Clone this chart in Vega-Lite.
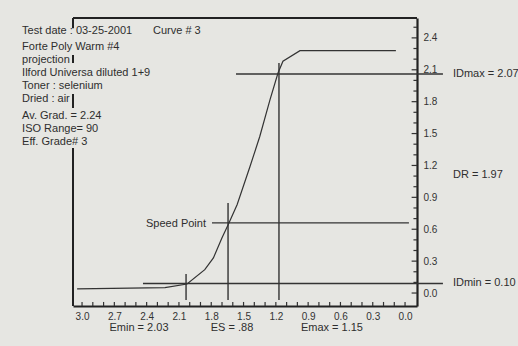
{
  "$schema": "https://vega.github.io/schema/vega-lite/v6.json",
  "width": 344,
  "height": 288,
  "autosize": {"type": "none"},
  "padding": {"left": 73, "top": 18, "right": 101, "bottom": 40},
  "background": "#e6e6e2",
  "config": {
    "view": {"stroke": null},
    "font": "Liberation Sans",
    "text": {"font": "Liberation Sans", "fontSize": 11, "color": "#2e2e2e"}
  },
  "datasets": {
    "curve": [
      {"logE": 3.046, "D": 0.04},
      {"logE": 2.23, "D": 0.05},
      {"logE": 2.025, "D": 0.085},
      {"logE": 1.86, "D": 0.22},
      {"logE": 1.78, "D": 0.33},
      {"logE": 1.70, "D": 0.52},
      {"logE": 1.644, "D": 0.64},
      {"logE": 1.56, "D": 0.83},
      {"logE": 1.44, "D": 1.19},
      {"logE": 1.35, "D": 1.47},
      {"logE": 1.254, "D": 1.82},
      {"logE": 1.18, "D": 2.07},
      {"logE": 1.134, "D": 2.18},
      {"logE": 0.976, "D": 2.28},
      {"logE": 0.085, "D": 2.28}
    ],
    "lines": [
      {"name": "Emin", "x": 2.034, "x2": 2.034, "y": 0.179, "y2": -0.066},
      {"name": "IDmin", "x": 2.434, "x2": -0.352, "y": 0.09, "y2": 0.09},
      {"name": "Speed vertical", "x": 1.644, "x2": 1.644, "y": 0.847, "y2": -0.066},
      {"name": "Speed horizontal", "x": 1.793, "x2": -0.036, "y": 0.66, "y2": 0.66},
      {"name": "Emax", "x": 1.171, "x2": 1.171, "y": 2.164, "y2": -0.066},
      {"name": "IDmax", "x": 1.57, "x2": -0.352, "y": 2.06, "y2": 2.06}
    ],
    "frame": [
      {"name": "top", "x": 3.084, "x2": -0.111, "y": 2.587, "y2": 2.587},
      {"name": "left a", "x": 3.084, "x2": 3.084, "y": 2.587, "y2": 2.49},
      {"name": "left b", "x": 3.084, "x2": 3.084, "y": 2.239, "y2": 2.164},
      {"name": "left c", "x": 3.084, "x2": 3.084, "y": 1.872, "y2": 1.74},
      {"name": "left d", "x": 3.084, "x2": 3.084, "y": 1.364, "y2": -0.122}
    ],
    "xTicks": [
      {"v": 0.0}, {"v": 0.1}, {"v": 0.2}, {"v": 0.3}, {"v": 0.4}, {"v": 0.5}, {"v": 0.6}, {"v": 0.7}, {"v": 0.8}, {"v": 0.9},
      {"v": 1.0}, {"v": 1.1}, {"v": 1.2}, {"v": 1.3}, {"v": 1.4}, {"v": 1.5}, {"v": 1.6}, {"v": 1.7}, {"v": 1.8}, {"v": 1.9},
      {"v": 2.0}, {"v": 2.1}, {"v": 2.2}, {"v": 2.3}, {"v": 2.4}, {"v": 2.5}, {"v": 2.6}, {"v": 2.7}, {"v": 2.8}, {"v": 2.9}, {"v": 3.0}
    ],
    "yMinorTicks": [
      {"v": 0.1}, {"v": 0.2}, {"v": 0.4}, {"v": 0.5}, {"v": 0.7}, {"v": 0.8}, {"v": 1.0}, {"v": 1.1}, {"v": 1.3}, {"v": 1.4},
      {"v": 1.6}, {"v": 1.7}, {"v": 1.9}, {"v": 2.0}, {"v": 2.2}, {"v": 2.3}, {"v": 2.5}
    ],
    "yMajorTicks": [
      {"v": 0.0}, {"v": 0.3}, {"v": 0.6}, {"v": 0.9}, {"v": 1.2}, {"v": 1.5}, {"v": 1.8}, {"v": 2.1}, {"v": 2.4}
    ],
    "leftText": [
      {"x": 3.557, "y": 2.465, "label": "Test date : 03-25-2001"},
      {"x": 2.341, "y": 2.465, "label": "Curve # 3"},
      {"x": 3.557, "y": 2.314, "label": "Forte Poly Warm  #4"},
      {"x": 3.557, "y": 2.192, "label": "projection"},
      {"x": 3.557, "y": 2.07, "label": "Ilford Universa diluted 1+9"},
      {"x": 3.557, "y": 1.947, "label": "Toner : selenium"},
      {"x": 3.557, "y": 1.825, "label": "Dried : air"},
      {"x": 3.557, "y": 1.665, "label": "Av. Grad. = 2.24"},
      {"x": 3.557, "y": 1.543, "label": "ISO Range=  90"},
      {"x": 3.557, "y": 1.42, "label": "Eff. Grade#  3"},
      {"x": -0.445, "y": 2.06, "label": "IDmax = 2.07"},
      {"x": -0.445, "y": 1.11, "label": "DR =  1.97"},
      {"x": -0.445, "y": 0.094, "label": "IDmin = 0.10"}
    ],
    "centerText": [
      {"x": 2.471, "y": -0.329, "label": "Emin = 2.03"},
      {"x": 1.607, "y": -0.329, "label": "ES =  .88"},
      {"x": 0.679, "y": -0.329, "label": "Emax =  1.15"}
    ],
    "rightText": [
      {"x": 1.849, "y": 0.65, "label": "Speed Point"}
    ]
  },
  "layer": [
    {
      "data": {"name": "frame"},
      "mark": {"type": "rule", "color": "#222222", "strokeWidth": 2, "clip": false},
      "encoding": {
        "x": {"field": "x", "type": "quantitative", "scale": {"domain": [-0.111, 3.084], "reverse": true, "nice": false, "zero": false},
          "axis": {
            "orient": "bottom", "title": null, "values": [0, 0.3, 0.6, 0.9, 1.2, 1.5, 1.8, 2.1, 2.4, 2.7, 3.0],
            "tickCount": 50, "format": ".1f", "ticks": false,
            "domainColor": "#222222", "domainWidth": 2.2,
            "labelPadding": 5, "labelFontSize": 10, "labelColor": "#333333", "labelFont": "Liberation Sans", "grid": false, "labelOverlap": false, "labelFlush": false
          }},
        "x2": {"field": "x2"},
        "y": {"field": "y", "type": "quantitative", "scale": {"domain": [-0.122, 2.587], "nice": false, "zero": false},
          "axis": {
            "orient": "right", "title": null, "values": [0, 0.3, 0.6, 0.9, 1.2, 1.5, 1.8, 2.1, 2.4],
            "tickCount": 50, "format": ".1f", "ticks": false,
            "domainColor": "#222222", "domainWidth": 2.2,
            "labelPadding": 6, "labelFontSize": 10, "labelColor": "#333333", "labelFont": "Liberation Sans", "grid": false, "labelOverlap": false, "labelFlush": false
          }},
        "y2": {"field": "y2"}
      }
    },
    {
      "data": {"name": "xTicks"},
      "mark": {"type": "rule", "color": "#333333", "strokeWidth": 1.2},
      "encoding": {
        "x": {"field": "v", "type": "quantitative"},
        "y": {"datum": -0.122},
        "y2": {"datum": -0.084}
      }
    },
    {
      "data": {"name": "yMinorTicks"},
      "mark": {"type": "rule", "color": "#333333", "strokeWidth": 1.2},
      "encoding": {
        "y": {"field": "v", "type": "quantitative"},
        "x": {"datum": -0.111},
        "x2": {"datum": -0.078}
      }
    },
    {
      "data": {"name": "yMajorTicks"},
      "mark": {"type": "rule", "color": "#333333", "strokeWidth": 1.2, "clip": false},
      "encoding": {
        "y": {"field": "v", "type": "quantitative"},
        "x": {"datum": -0.111},
        "x2": {"datum": -0.061}
      }
    },
    {
      "data": {"name": "lines"},
      "mark": {"type": "rule", "color": "#333333", "strokeWidth": 1.4, "clip": false},
      "encoding": {
        "x": {"field": "x", "type": "quantitative"},
        "x2": {"field": "x2"},
        "y": {"field": "y", "type": "quantitative"},
        "y2": {"field": "y2"}
      }
    },
    {
      "data": {"name": "curve"},
      "mark": {"type": "line", "color": "#333333", "strokeWidth": 1.2},
      "encoding": {
        "x": {"field": "logE", "type": "quantitative"},
        "y": {"field": "D", "type": "quantitative"}
      }
    },
    {
      "data": {"name": "leftText"},
      "mark": {"type": "text", "align": "left", "baseline": "middle"},
      "encoding": {
        "x": {"field": "x", "type": "quantitative"},
        "y": {"field": "y", "type": "quantitative"},
        "text": {"field": "label"}
      }
    },
    {
      "data": {"name": "centerText"},
      "mark": {"type": "text", "align": "center", "baseline": "middle"},
      "encoding": {
        "x": {"field": "x", "type": "quantitative"},
        "y": {"field": "y", "type": "quantitative"},
        "text": {"field": "label"}
      }
    },
    {
      "data": {"name": "rightText"},
      "mark": {"type": "text", "align": "right", "baseline": "middle"},
      "encoding": {
        "x": {"field": "x", "type": "quantitative"},
        "y": {"field": "y", "type": "quantitative"},
        "text": {"field": "label"}
      }
    }
  ]
}
